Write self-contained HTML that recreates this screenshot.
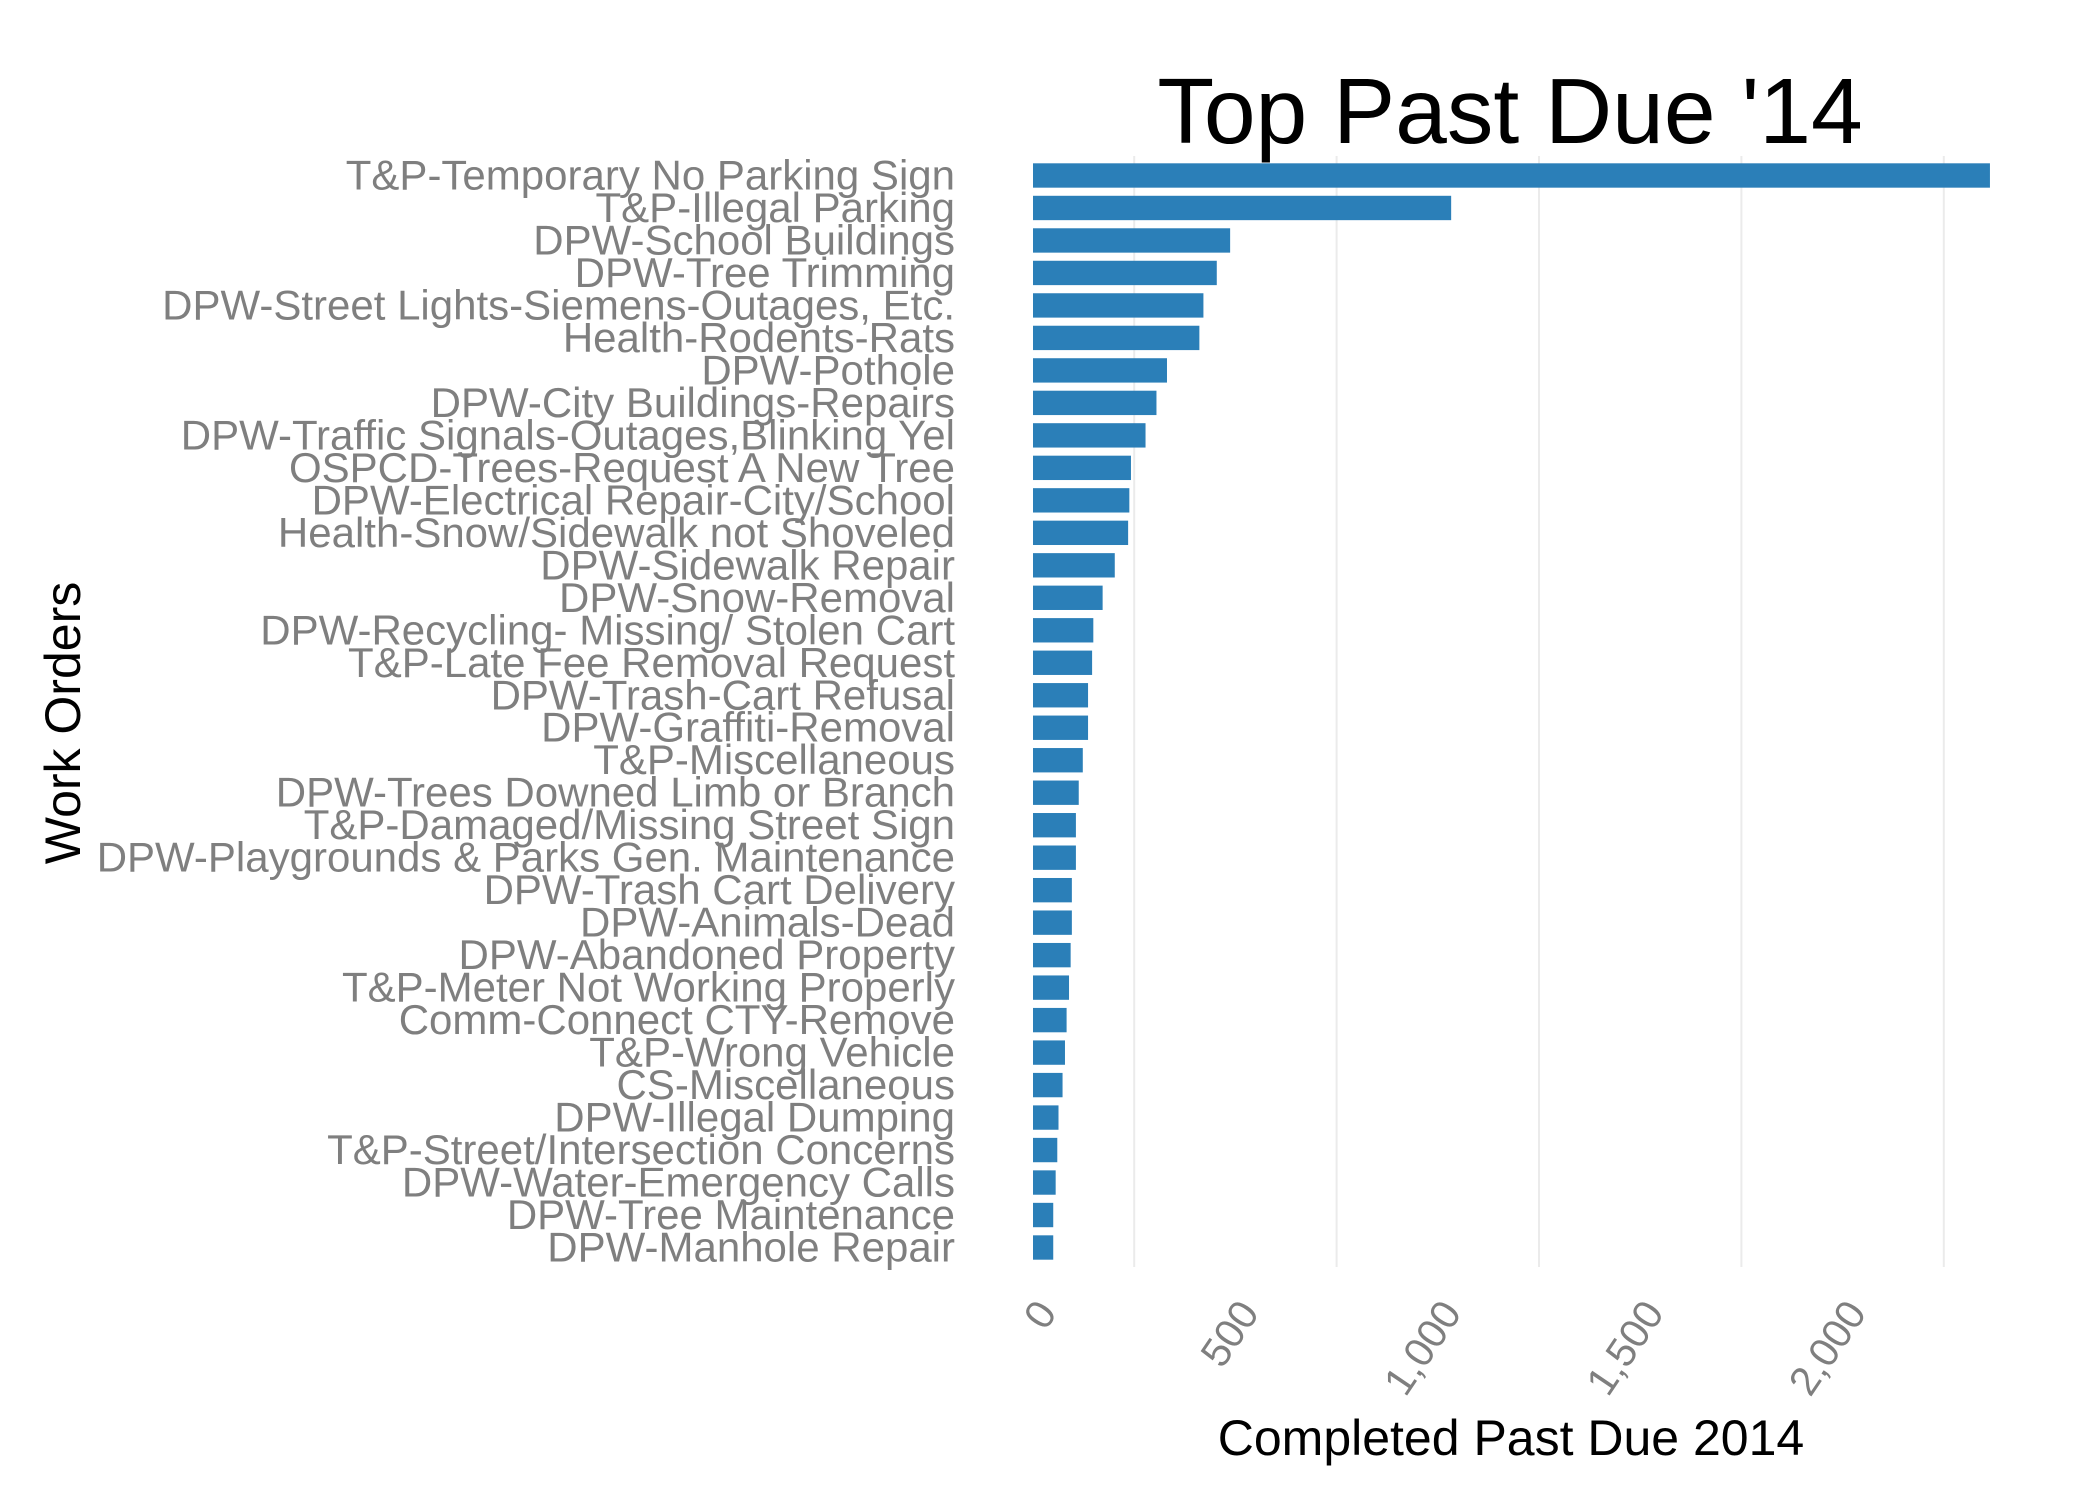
<!DOCTYPE html>
<html><head><meta charset="utf-8">
<style>
html,body{margin:0;padding:0;background:#fff;}
svg{display:block;font-family:"Liberation Sans",Arial,sans-serif;}
</style></head>
<body>
<svg id="chart" width="2100" height="1500" viewBox="0 0 2100 1500">
<g id="grid"></g>
<g id="bars"></g>
<g id="ylabels"></g>
<g id="xlabels"></g>
<text x="1510" y="143" font-size="93" text-anchor="middle" fill="#000">Top Past Due '14</text>
<text x="1511" y="1455" font-size="50" text-anchor="middle" fill="#000">Completed Past Due 2014</text>
<text transform="translate(80,723) rotate(-90)" font-size="50" text-anchor="middle" fill="#000">Work Orders</text>
</svg>
<script>
const categories = ["T&P-Temporary No Parking Sign","T&P-Illegal Parking","DPW-School Buildings","DPW-Tree Trimming","DPW-Street Lights-Siemens-Outages, Etc.","Health-Rodents-Rats","DPW-Pothole","DPW-City Buildings-Repairs","DPW-Traffic Signals-Outages,Blinking Yel","OSPCD-Trees-Request A New Tree","DPW-Electrical Repair-City/School","Health-Snow/Sidewalk not Shoveled","DPW-Sidewalk Repair","DPW-Snow-Removal","DPW-Recycling- Missing/ Stolen Cart","T&P-Late Fee Removal Request","DPW-Trash-Cart Refusal","DPW-Graffiti-Removal","T&P-Miscellaneous","DPW-Trees Downed Limb or Branch","T&P-Damaged/Missing Street Sign","DPW-Playgrounds & Parks Gen. Maintenance","DPW-Trash Cart Delivery","DPW-Animals-Dead","DPW-Abandoned Property","T&P-Meter Not Working Properly","Comm-Connect CTY-Remove","T&P-Wrong Vehicle","CS-Miscellaneous","DPW-Illegal Dumping","T&P-Street/Intersection Concerns","DPW-Water-Emergency Calls","DPW-Tree Maintenance","DPW-Manhole Repair"];
const values = [2364,1033,487,454,421,411,331,305,278,242,238,235,202,172,149,146,136,136,123,113,106,106,96,96,93,89,83,79,73,63,60,56,50,50];
const tickValues = [0,500,1000,1500,2000];
const tickLabels = ["0","500","1,000","1,500","2,000"];
const minorGrid = [250,750,1250,1750,2250];

const NS="http://www.w3.org/2000/svg";
const x0=1033, pxPer=202.4/500;
const panelTop=156, panelBot=1267;
const step=(panelBot-panelTop)/(categories.length-1+1.2);
function xs(v){return x0+v*pxPer;}
function ys(i){return panelTop+(0.6+i)*step;}
const bh=step*0.75;

const grid=document.getElementById('grid');
minorGrid.forEach(v=>{
  const l=document.createElementNS(NS,'line');
  l.setAttribute('x1',xs(v));l.setAttribute('x2',xs(v));
  l.setAttribute('y1',panelTop);l.setAttribute('y2',panelBot);
  l.setAttribute('stroke','#ebebeb');l.setAttribute('stroke-width','2');
  
  
  grid.appendChild(l);
});
const bars=document.getElementById('bars');
const yl=document.getElementById('ylabels');
categories.forEach((c,i)=>{
  const r=document.createElementNS(NS,'rect');
  r.setAttribute('x',xs(0));r.setAttribute('y',ys(i)-bh/2);
  r.setAttribute('width',xs(values[i])-xs(0));r.setAttribute('height',bh);
  r.setAttribute('fill','#2b7fb8');
  
  
  bars.appendChild(r);
  const t=document.createElementNS(NS,'text');
  t.setAttribute('x',955);t.setAttribute('y',ys(i)+14);
  t.setAttribute('text-anchor','end');t.setAttribute('font-size','42');
  t.setAttribute('fill','#7f7f7f');
  t.textContent=c;
  
  
  yl.appendChild(t);
});
const xl=document.getElementById('xlabels');
tickValues.forEach((v,i)=>{
  const t=document.createElementNS(NS,'text');
  const x=xs(v)+25, y=1313;
  t.setAttribute('transform','translate('+x+','+y+') rotate(-56)');
  t.setAttribute('text-anchor','end');t.setAttribute('font-size','41');
  t.setAttribute('fill','#7f7f7f');
  t.textContent=tickLabels[i];
  
  
  xl.appendChild(t);
});
</script>
</body></html>
